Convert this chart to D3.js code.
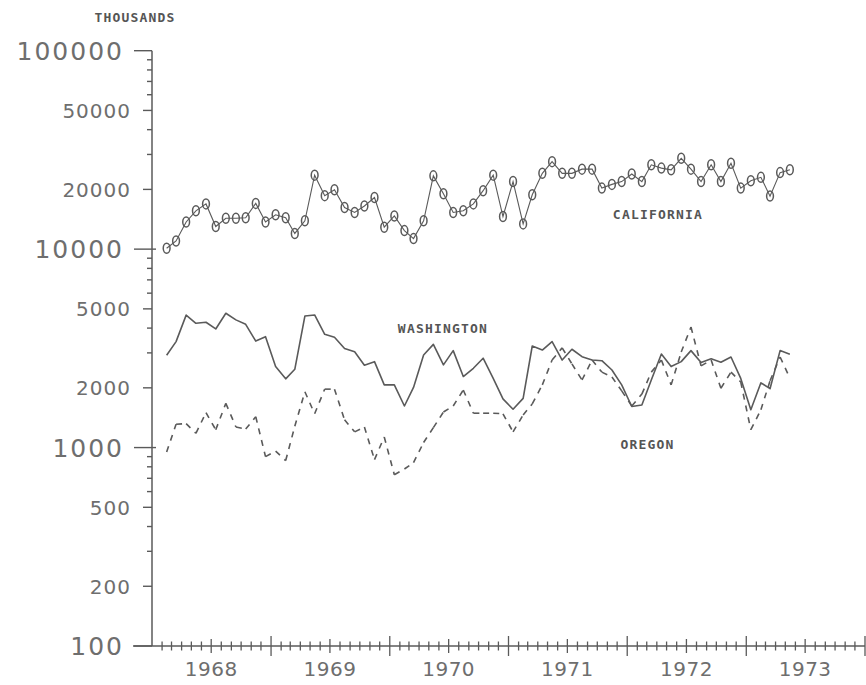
<!DOCTYPE html>
<html><head><meta charset="utf-8">
<script src="https://cdn.jsdelivr.net/npm/d3@7"></script>
<style>body{margin:0;background:#fff}</style>
</head><body>
<svg id="chart" width="866" height="685"></svg>
<script>
// ---- data (thousands) ----
const months = [
 "1968-02","1968-03","1968-04","1968-05","1968-06","1968-07","1968-08","1968-09","1968-10","1968-11","1968-12",
 "1969-01","1969-02","1969-03","1969-04","1969-05","1969-06","1969-07","1969-08","1969-09","1969-10","1969-11","1969-12",
 "1970-01","1970-02","1970-03","1970-04","1970-05","1970-06","1970-07","1970-08","1970-09","1970-10","1970-11","1970-12",
 "1971-01","1971-02","1971-03","1971-04","1971-05","1971-06","1971-07","1971-08","1971-09","1971-10","1971-11","1971-12",
 "1972-01","1972-02","1972-03","1972-04","1972-05","1972-06","1972-07","1972-08","1972-09","1972-10","1972-11","1972-12",
 "1973-01","1973-02","1973-03","1973-04","1973-05"];
const california = [10100,11000,13700,15600,16900,13000,14300,14300,14400,17000,
 13700,14900,14400,12000,13900,23600,18600,19900,16200,15300,
 16500,18200,12900,14700,12400,11300,13900,23400,19000,15300,
 15600,16900,19700,23600,14600,21900,13400,18800,24100,27600,
 24100,24100,25300,25300,20300,21200,21900,23900,21900,26600,
 25600,25100,28700,25300,21900,26600,21900,27100,20300,22100,
 23000,18500,24300,25100];
const washington = [2920,3420,4650,4230,4280,3960,4750,4400,4180,3440,
 3620,2560,2220,2480,4600,4660,3720,3600,3160,3040,
 2600,2710,2070,2070,1620,2010,2930,3310,2610,3080,
 2280,2510,2820,2230,1760,1560,1770,3250,3100,3420,
 2760,3130,2870,2760,2740,2460,2070,1610,1640,2190,
 2960,2560,2710,3080,2680,2800,2690,2860,2230,1550,
 2120,1980,3080,2950];
const oregon = [950,1310,1320,1180,1500,1230,1670,1270,1240,1430,
 900,960,860,1280,1910,1480,1970,1970,1380,1200,
 1270,870,1130,730,780,840,1060,1260,1510,1620,
 1950,1490,1490,1490,1480,1200,1460,1660,2070,2760,
 3180,2640,2190,2760,2400,2270,1930,1620,1860,2400,
 2760,2070,3030,4050,2580,2760,1990,2400,2140,1230,
 1550,2170,2860,2240];
const yTickLabels = [100,200,500,1000,2000,5000,10000,20000,50000,100000];
const yearLabels = ["1968","1969","1970","1971","1972","1973"];
const seriesNames = ["CALIFORNIA","WASHINGTON","OREGON"];
const unitLabel = "THOUSANDS";

// ---- drawing ----
const INK = "#5a5a5a", TXT = "#6e6e6e";
const svg = d3.select("#chart");
svg.append("rect").attr("width",866).attr("height",685).attr("fill","#fff");

const parse = d3.timeParse("%Y-%m");
const dates = months.map(m => { const d = parse(m); d.setDate(15); return d; });

const x = d3.scaleTime().domain([new Date(1968,0,1), new Date(1974,0,1)]).range([152,865]);
const y = d3.scaleLog().domain([100,100000]).range([646,50.7]);

// y axis
svg.append("line").attr("x1",152).attr("x2",152).attr("y1",y(100000)).attr("y2",y(100))
  .attr("stroke",INK).attr("stroke-width",1.5);
const yTicks = [];
[100,1000,10000].forEach(k => { for (let j=1;j<=9;j++) yTicks.push(j*k); });
yTicks.push(100000);
yTicks.forEach(v => {
  const lg = Math.log10(v), decade = Math.abs(lg-Math.round(lg))<1e-9;
  const labeled = yTickLabels.includes(v);
  const x1 = decade ? 134 : (labeled ? 143 : 147);
  const x2 = decade && v!==100 && v!==100000 ? 156 : 152;
  svg.append("line").attr("x1",x1).attr("x2",x2).attr("y1",y(v)).attr("y2",y(v))
    .attr("stroke",INK).attr("stroke-width",1.4);
});
yTickLabels.forEach(v => {
  const lg = Math.log10(v), decade = Math.abs(lg-Math.round(lg))<1e-9;
  svg.append("text")
    .attr("x", decade ? 124 : 131)
    .attr("y", y(v) + (decade ? 9.1 : 7.3))
    .attr("text-anchor","end")
    .attr("font-family","DejaVu Sans")
    .attr("font-size", decade ? 25 : 20)
    .attr("letter-spacing", decade ? 2 : 1)
    .attr("fill",TXT)
    .text(String(v));
});

// x axis
svg.append("line").attr("x1",133).attr("x2",865).attr("y1",646).attr("y2",646)
  .attr("stroke",INK).attr("stroke-width",1.5);
d3.timeMonths(new Date(1968,1,1), new Date(1974,0,2)).forEach(d => {
  const m = d.getMonth();
  const up = m===0 ? 10 : (m===6 ? 7 : 4.5);
  const dn = m===0 ? 10 : (m===6 ? 7 : 4.5);
  svg.append("line").attr("x1",x(d)).attr("x2",x(d)).attr("y1",646-up).attr("y2",646+dn)
    .attr("stroke",INK).attr("stroke-width",1.3);
});
yearLabels.forEach(yr => {
  svg.append("text").attr("x", x(new Date(+yr,6,1))).attr("y",676)
    .attr("text-anchor","middle").attr("font-family","DejaVu Sans")
    .attr("font-size",20).attr("letter-spacing",0.5).attr("fill",TXT).text(yr);
});

// series
const line = d3.line().x((d,i)=>x(dates[i])).y(d=>y(d));
svg.append("path").datum(california).attr("d",line)
  .attr("fill","none").attr("stroke",INK).attr("stroke-width",1.1);
svg.selectAll(".ca").data(california).enter().append("ellipse")
  .attr("cx",(d,i)=>x(dates[i])).attr("cy",d=>y(d))
  .attr("rx",3.4).attr("ry",5)
  .attr("fill","none").attr("stroke",INK).attr("stroke-width",1.5);

svg.append("path").datum(washington).attr("d",line)
  .attr("fill","none").attr("stroke",INK).attr("stroke-width",1.6).attr("stroke-linejoin","round");

// oregon: dashed, each segment restarts its dash pattern
for (let i=0;i<oregon.length-1;i++) {
  svg.append("line")
    .attr("x1",x(dates[i])).attr("y1",y(oregon[i]))
    .attr("x2",x(dates[i+1])).attr("y2",y(oregon[i+1]))
    .attr("stroke",INK).attr("stroke-width",1.6)
    .attr("stroke-dasharray","6,6");
}

// labels
const lab = (t, cx, cy) => svg.append("text").attr("x",cx).attr("y",cy)
  .attr("text-anchor","middle").attr("font-family","DejaVu Sans Mono").attr("font-weight","bold")
  .attr("font-size",13).attr("letter-spacing",1.2).attr("fill","#555").text(t);
lab(unitLabel, 135, 22);
lab(seriesNames[0], 658, 218.5);
lab(seriesNames[1], 443, 333);
lab(seriesNames[2], 647.5, 449);
</script>
</body></html>
